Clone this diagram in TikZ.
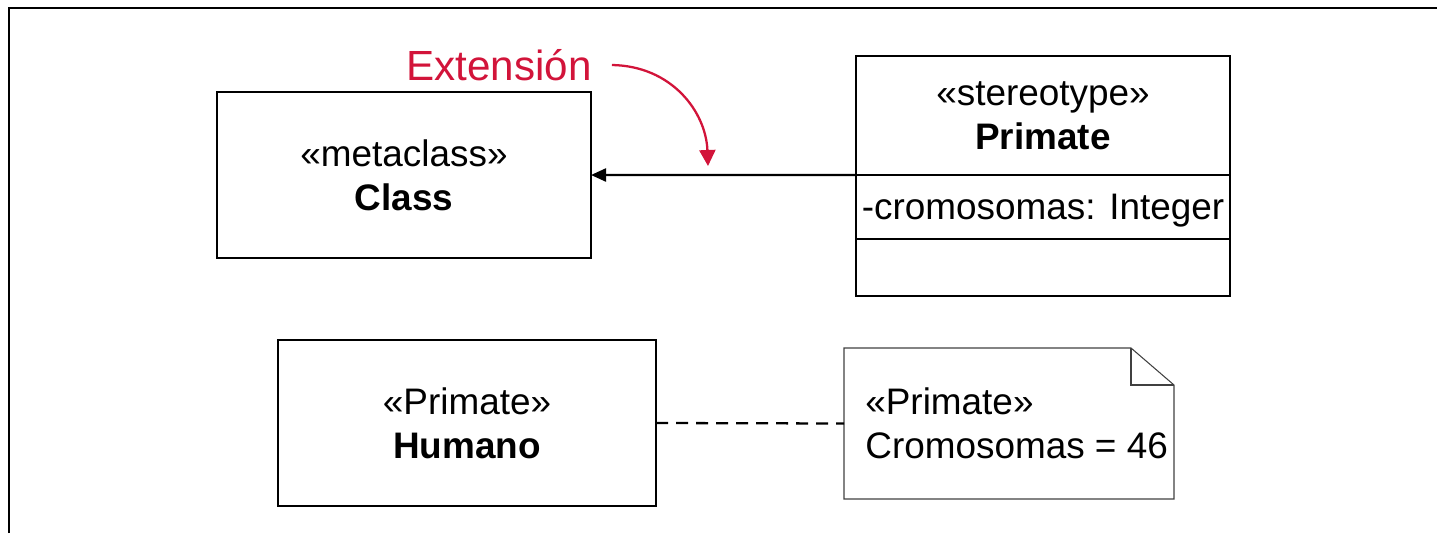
\documentclass[tikz,border=0pt]{standalone}
\usepackage{fontspec}
\setmainfont{Liberation Sans}
\usepackage{xcolor}
\usepackage{tikz}
\usetikzlibrary{positioning,arrows.meta,calc}
\definecolor{extred}{HTML}{D2143A}

\begin{document}
\begin{tikzpicture}[x=0.2mm, y=-0.2mm,
  cls/.style={draw, line width=1.4pt, minimum width=74.8mm, minimum height=33.2mm,
              align=center, inner sep=2pt, outer sep=0pt, text depth=0pt,
              font=\fontsize{21}{25}\selectfont},
  part/.style={draw, line width=1.4pt, minimum width=74.8mm, align=center, text depth=0pt,
               inner sep=2pt, outer sep=0pt, font=\fontsize{21}{25}\selectfont},
  notebox/.style={minimum width=66mm, minimum height=30.2mm, inner sep=0pt, outer sep=0pt},
  notetxt/.style={align=left, inner sep=0pt, text depth=0pt, font=\fontsize{21}{25}\selectfont},
  noteline/.style={line width=0.6pt, black!75, line join=miter},
  ext/.style={-{Triangle[length=3mm, width=2.6mm]}, line width=1.3pt},
  depend/.style={line width=1.3pt, dash pattern=on 2.4mm off 1.6mm},
  hd/.style={font=\fontsize{24}{28}\selectfont, text=extred, inner xsep=4mm, inner ysep=0pt},
  hdarr/.style={-{Triangle[length=3.2mm, width=3.2mm]}, line width=1.3pt, extred},
]
\useasboundingbox (0,0) rectangle (1437,533);

% frame, cut off at the right and bottom
\coordinate (fb) at (9,533);
\coordinate (fc) at (9,8);
\coordinate (fr) at (1437,8);
\draw[line width=1.4pt] (fb) -- (fc) -- (fr);

\node[cls] (cls) at (404,175) {«metaclass»\\\textbf{Class}};

\node[part, minimum height=23.8mm] (hdr) at (1043,115.5) {«stereotype»\\\textbf{Primate}};
\node[part, minimum height=12.8mm, below=0pt of hdr] (attr) {-cromosomas: Integer};
\node[part, minimum height=11.4mm, below=0pt of attr] (ops) {};

\draw[ext] (hdr.south west) -- (cls.east);

\node[hd] (lbl) at (499,65) {Extensión};
\coordinate (tip) at (708,166);
\draw[hdarr] (lbl.east) .. controls (672,66) and (706,112) .. (tip);

\node[cls, minimum width=75.6mm] (hum) at (467,423) {«Primate»\\\textbf{Humano}};

\node[notebox] (nt) at (1009,423.5) {};
\node[notetxt, anchor=west, right=4.2mm of nt.west] (ntx) {«Primate»\\Cromosomas = 46};
\draw[noteline] (nt.north west) -- ([xshift=-8.6mm]nt.north east)
  -- ([yshift=-7.4mm]nt.north east) -- (nt.south east) -- (nt.south west) -- cycle;
\draw[noteline] ([xshift=-8.6mm]nt.north east) -- ([xshift=-8.6mm, yshift=-7.4mm]nt.north east)
  -- ([yshift=-7.4mm]nt.north east);

\draw[depend] (hum.east) -- (nt.west);
\end{tikzpicture}
\end{document}
